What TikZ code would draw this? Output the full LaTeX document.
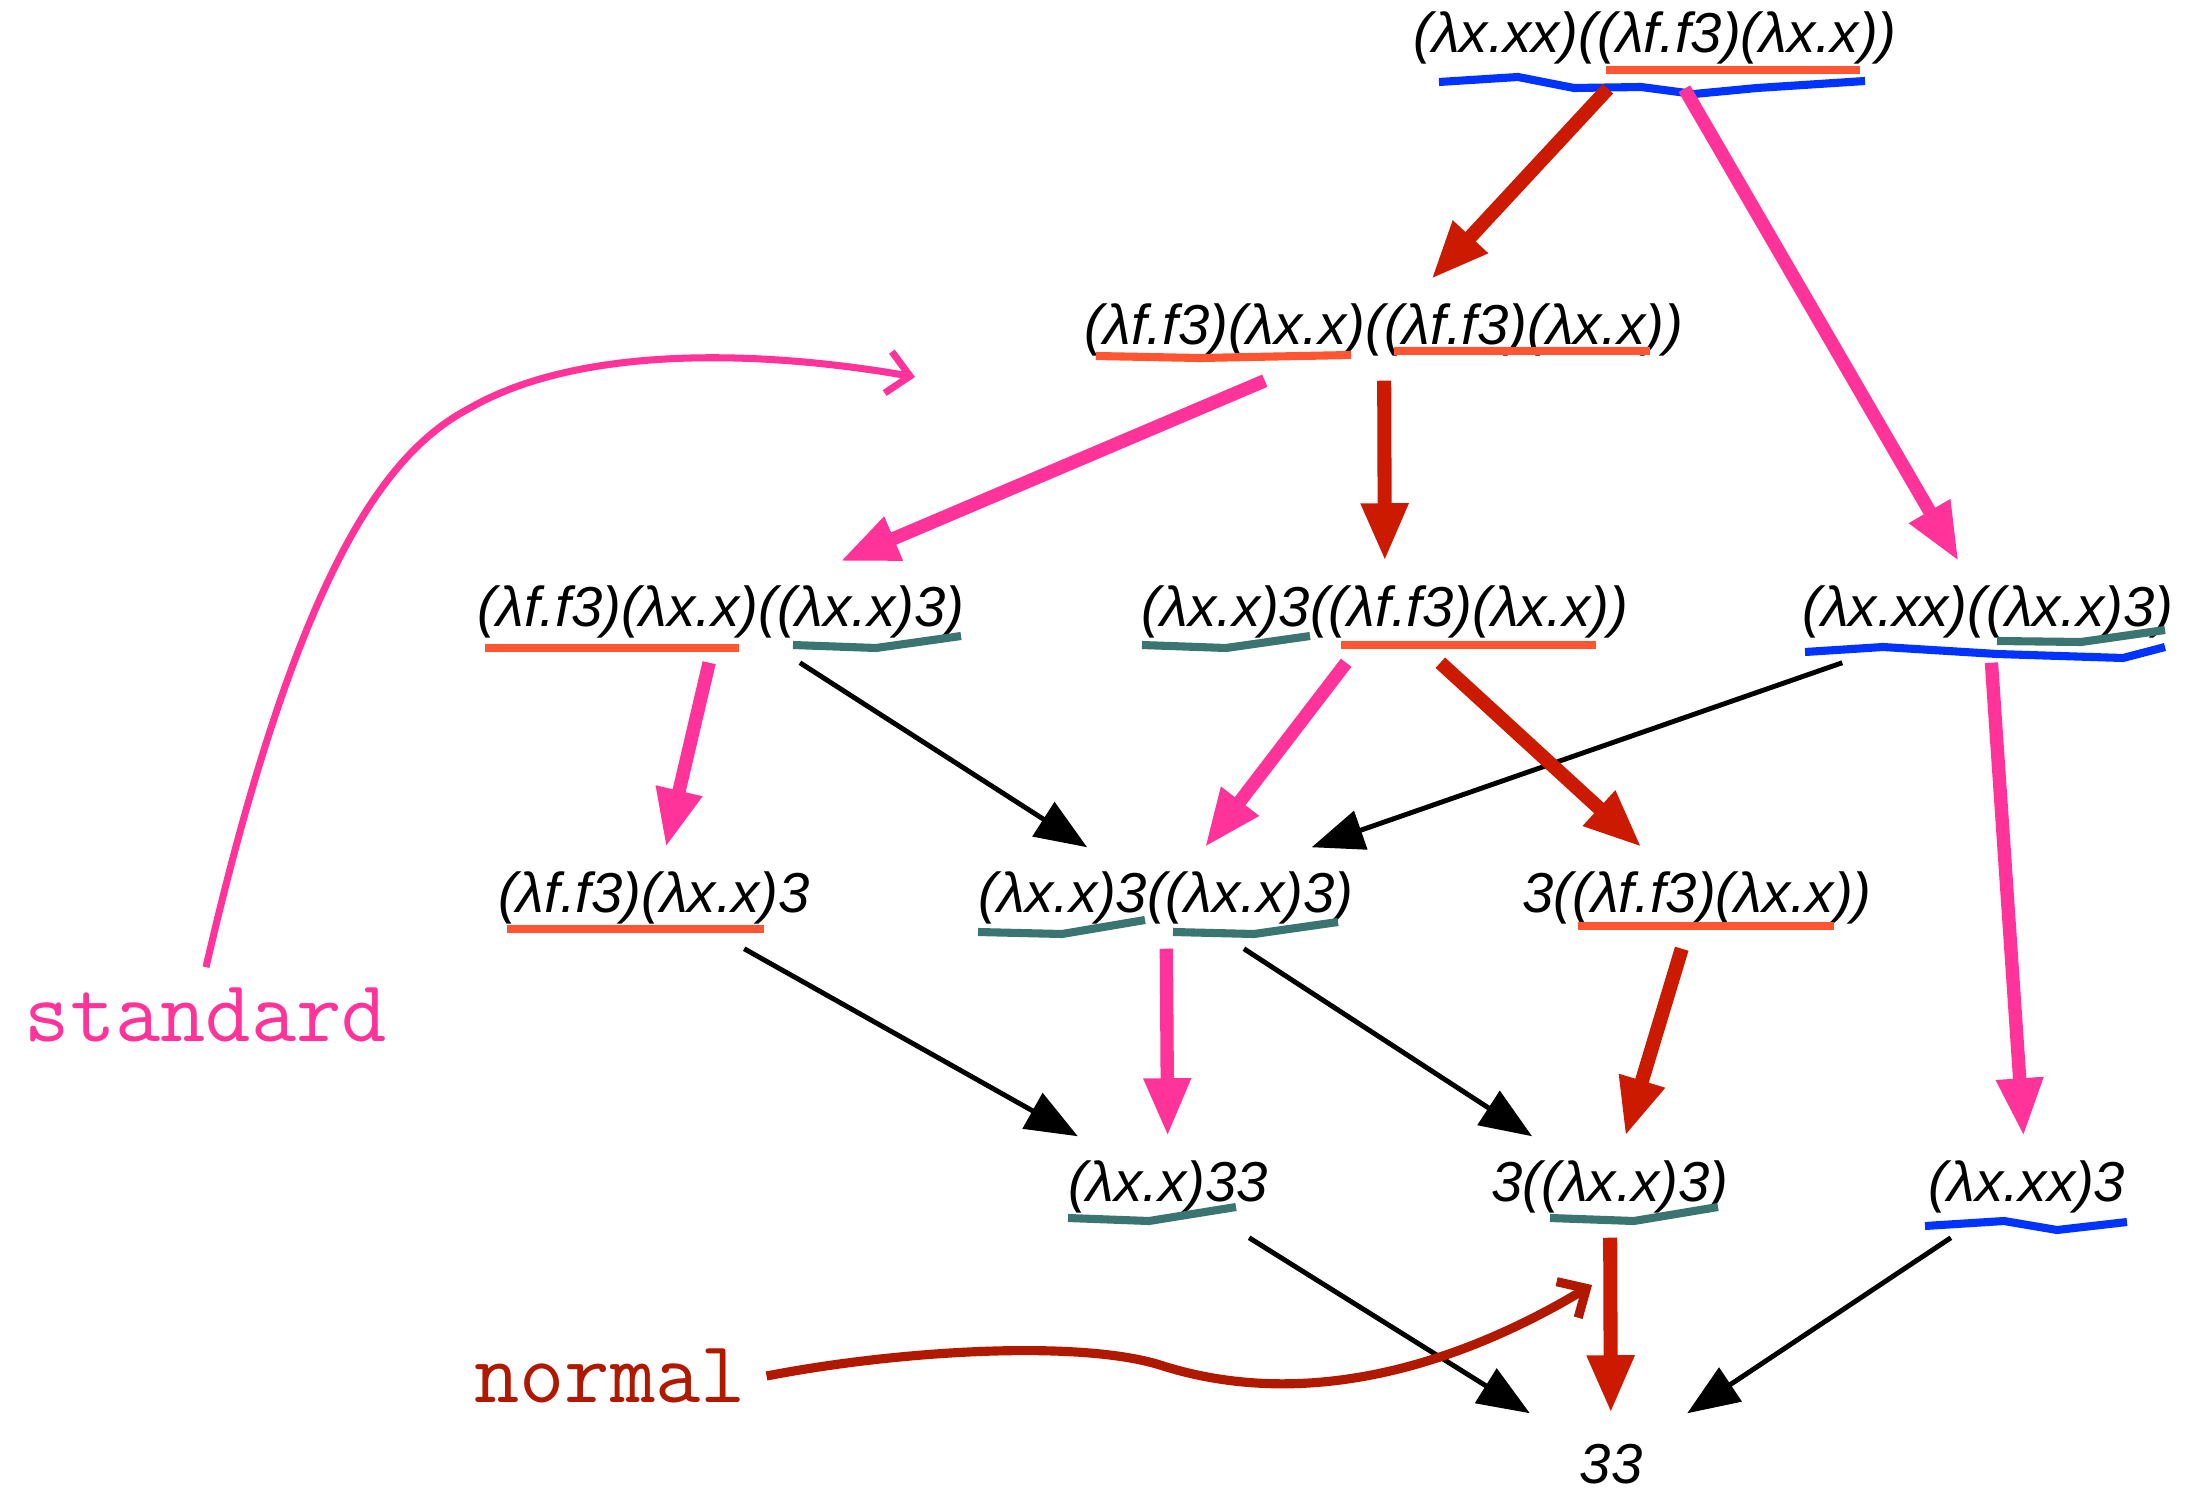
\documentclass[tikz,border=0pt]{standalone}
\usepackage{fontspec}
\usetikzlibrary{arrows.meta}
\newfontfamily\termfont{Liberation Sans}

\begin{document}
\begin{tikzpicture}[x=0.01cm, y=-0.01cm]

\definecolor{stdpink}{RGB}{255, 51, 153}
\definecolor{nored}{RGB}{204, 26, 0}
\definecolor{notered}{RGB}{176, 24, 0}
\definecolor{redexorange}{RGB}{255, 85, 51}
\definecolor{redexteal}{RGB}{58, 117, 113}
\definecolor{redexblue}{RGB}{0, 51, 255}

\useasboundingbox (0,0) rectangle (2190,1494);

\tikzset{
    term/.style={
        inner sep=0pt, minimum width=3cm, minimum height=1cm,
        font=\termfont\itshape\fontsize{16}{18}\selectfont
    },
    under/.style={
        draw=#1, line width=2.3pt
    },
    normal arrow/.style={
        color=nored, line width=4pt,
        -{Triangle[length=0.58cm, width=0.44cm]}
    },
    standard arrow/.style={
        color=stdpink, line width=3.8pt,
        -{Triangle[length=0.58cm, width=0.44cm]}
    },
    other arrow/.style={
        color=black, line width=1.4pt,
        -{Triangle[length=0.52cm, width=0.4cm]}
    },
    note/.style={
        text=#1, inner sep=0.2cm,
        font=\ttfamily\fontsize{25}{30}\selectfont
    },
    note arrow/.style={
        draw=#1, -{Straight Barb[length=0.22cm, width=0.42cm]}
    }
}

% TERMS
\node[term] (t0) at (1655,38) {(λx.xx)((λf.f3)(λx.x))};
\node[term] (t1) at (1384,330) {(λf.f3)(λx.x)((λf.f3)(λx.x))};
\node[term] (t2a) at (721,612) {(λf.f3)(λx.x)((λx.x)3)};
\node[term] (t2b) at (1385,612) {(λx.x)3((λf.f3)(λx.x))};
\node[term] (t2c) at (1988,612) {(λx.xx)((λx.x)3)};
\node[term] (t3a) at (654,898) {(λf.f3)(λx.x)3};
\node[term] (t3b) at (1166,898) {(λx.x)3((λx.x)3)};
\node[term] (t3c) at (1697,898) {3((λf.f3)(λx.x))};
\node[term] (t4a) at (1168,1187) {(λx.x)33};
\node[term] (t4b) at (1610,1187) {3((λx.x)3)};
\node[term] (t4c) at (2027,1187) {(λx.xx)3};
\node[term] (t5) at (1611,1464) {33};

% --- REDEX UNDERLINES ---
\draw[under=redexorange] (1606,70) -- (1860,70);
\draw[under=redexblue] (1439,82) -- (1518,77) -- (1574,88) -- (1641,87) -- (1694,94) -- (1757,88) -- (1865,81);

\draw[under=redexorange] (1096,356) -- (1200,358) -- (1351,355);
\draw[under=redexorange] (1394,351) -- (1650,351);

\draw[under=redexorange] (485,648) -- (739,648);
\draw[under=redexteal] (793,645) -- (876,648) -- (961,636);

\draw[under=redexteal] (1142,645) -- (1226,648) -- (1310,636);
\draw[under=redexorange] (1341,645) -- (1596,645);

\draw[under=redexblue] (1805,652) -- (1883,647) -- (1997,654) -- (2123,658) -- (2165,647);
\draw[under=redexteal] (1997,641) -- (2081,642) -- (2165,630);

\draw[under=redexorange] (507,929) -- (764,929);
\draw[under=redexteal] (978,932) -- (1062,934) -- (1145,920);
\draw[under=redexteal] (1173,932) -- (1254,934) -- (1338,922);
\draw[under=redexorange] (1578,926) -- (1834,926);

\draw[under=redexteal] (1068,1218) -- (1149,1221) -- (1236,1207);
\draw[under=redexteal] (1550,1218) -- (1634,1221) -- (1718,1207);
\draw[under=redexblue] (1925,1226) -- (2004,1221) -- (2057,1230) -- (2127,1222);

% --- OTHER REDUCTIONS ---
\draw[other arrow] (t2a) -- (t3b);
\draw[other arrow] (t2c) -- (t3b);
\draw[other arrow] (t3a) -- (t4a);
\draw[other arrow] (t3b) -- (t4b);
\draw[other arrow] (t4a) -- (t5);
\draw[other arrow] (t4c) -- (t5);

% --- STANDARD REDUCTIONS ---
\draw[standard arrow] (t0) -- (t2c);
\draw[standard arrow] (t1) -- (t2a);
\draw[standard arrow] (t2a) -- (t3a);
\draw[standard arrow] (t2b) -- (t3b);
\draw[standard arrow] (t3b) -- (t4a);
\draw[standard arrow] (t2c) -- (t4c);

% --- NORMAL REDUCTIONS ---
\draw[normal arrow] (t0) -- (t1);
\draw[normal arrow] (t1) -- (t2b);
\draw[normal arrow] (t2b) -- (t3c);
\draw[normal arrow] (t3c) -- (t4b);
\draw[normal arrow] (t4b) -- (t5);

% Labels
\node[note=stdpink] (std) at (206,1015) {standard};
\node[note=notered] (nrm) at (610,1376) {normal};
\coordinate (stdtip) at (915,377);
\coordinate (nrmtip) at (1592,1285);

\draw[note arrow=stdpink, line width=2pt] (std.north) .. controls (300,560) and (390,450) .. (470,408) .. controls (580,345) and (760,350) .. (stdtip);
\draw[note arrow=notered, line width=2.6pt] (nrm.east) .. controls (900,1350) and (1080,1340) .. (1160,1365) .. controls (1300,1410) and (1450,1370) .. (nrmtip);

\end{tikzpicture}
\end{document}
